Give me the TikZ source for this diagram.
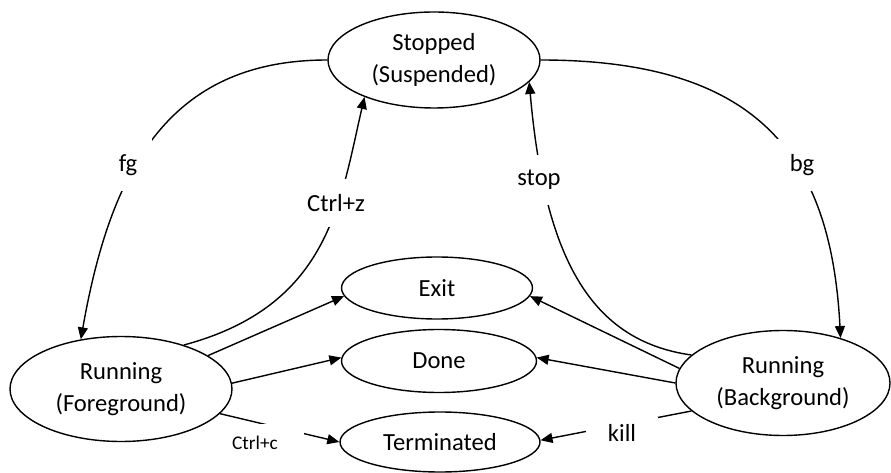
\documentclass[tikz,border=0pt]{standalone}
\usepackage{fontspec}
\setmainfont{Carlito}
\usetikzlibrary{arrows.meta, shapes}

\begin{document}
\begin{tikzpicture}[% styles used in image code
         > = {Triangle[length=2.4mm, width=2mm]}, % defined in "arrows.meta"
line width = 0.8pt,
state/.style args = {#1/#2}{ellipse, draw,
              minimum width=#1, minimum height=#2,
              inner sep=0pt, align=center,
              font=\fontsize{14}{18}\selectfont},
lbl/.style = {fill=white, inner sep=3mm,
              font=\fontsize{14}{17}\selectfont}
                        ]
	% canvas
	\useasboundingbox (0,0) rectangle (17.82,9.44);

	% states
	\node[state=4.24cm/1.92cm] (stopped) at (8.68,8.24)  {Stopped\\(Suspended)};
	\node[state=3.82cm/1.24cm] (exit)    at (8.74,3.68)  {Exit};
	\node[state=3.90cm/1.26cm] (done)    at (8.78,2.22)  {Done};
	\node[state=4.00cm/1.20cm] (term)    at (8.80,0.60)  {Terminated};
	\node[state=4.44cm/2.10cm] (fore)    at (2.42,1.66)  {Running\\(Foreground)};
	\node[state=4.28cm/2.10cm] (back)    at (15.66,1.78) {Running\\(Background)};

	% transitions
	\draw[->] (stopped.180) .. controls +(180:3.2) and +(80:3.4) .. (fore.129);
	\draw[->] (fore.35) .. controls +(15:3) and +(-103:2.2) .. (stopped.208);
	\draw[->] (back.163) .. controls +(172:2) and +(-85:3.6) .. (stopped.-13);
	\draw[->] (stopped.0) .. controls +(0:4.4) and +(93:3.6) .. (back.38);
	\draw[->] (fore.21)  -- (exit.185);
	\draw[->] (fore.3)   -- (done.178);
	\draw[->] (fore.-14) -- (term.180);
	\draw[->] (back.172) -- (exit.355);
	\draw[->] (back.180) -- (done.2);
	\draw[->] (back.197) -- (term.1);

	% labels
	\node[lbl] (fg)    at (2.56,6.14)  {fg};
	\node[lbl] (ctrlz) at (6.72,5.38)  {Ctrl+z};
	\node[lbl] (stop)  at (10.78,5.84) {stop};
	\node[lbl] (bg)    at (16.04,6.14) {bg};
	\node[lbl, inner xsep=5.3mm, inner ysep=2.4mm,
	      font=\fontsize{11}{13}\selectfont] (ctrlc) at (5.1,0.58) {Ctrl+c};
	\node[lbl, inner xsep=4.4mm, inner ysep=1.5mm] (kill) at (12.44,0.78) {kill};
\end{tikzpicture}
\end{document}
